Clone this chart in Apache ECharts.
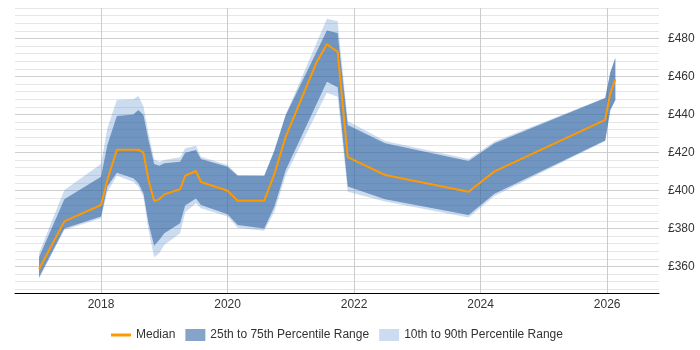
<!DOCTYPE html>
<html>
<head>
<meta charset="utf-8">
<script src="https://cdn.jsdelivr.net/npm/echarts@6/dist/echarts.min.js"></script>
<style>
  html, body { margin: 0; padding: 0; background: #fff; }
  #chart { width: 700px; height: 350px; }
</style>
</head>
<body>
<div id="chart"></div>
<script>
// decimal years of each sample
const years = [2017.02, 2017.42, 2018.00, 2018.10, 2018.25, 2018.51, 2018.59, 2018.67, 2018.75, 2018.84,
  2018.92, 2019.00, 2019.25, 2019.33, 2019.50, 2019.58, 2020.00, 2020.16, 2020.58, 2020.74,
  2020.92, 2021.40, 2021.57, 2021.74, 2021.90, 2022.49, 2023.81, 2024.22, 2025.97, 2026.05, 2026.13]

const median = [358.5, 383.7, 392.3, 405.5, 421.4, 421.4, 421.4, 420.0, 405.5, 394.4,
  395.3, 397.9, 400.6, 407.7, 410.2, 404.4, 399.8, 394.6, 394.6, 408.6,
  428.3, 466.9, 476.9, 473.0, 417.5, 408.1, 399.3, 410.0, 437.1, 451.1, 458.5]

const p25 = [354.3, 380.0, 386.2, 402.0, 409.3, 406.4, 403.7, 398.5, 382.7, 370.9,
  373.9, 377.4, 382.7, 392.0, 395.8, 392.3, 387.4, 381.8, 380.0, 391.4,
  410.7, 445.0, 457.2, 454.3, 402.0, 395.3, 387.0, 398.2, 426.2, 442.3, 447.6]

const p75 = [364.8, 395.3, 407.2, 423.9, 439.2, 440.0, 442.3, 439.7, 426.5, 413.9,
  413.0, 414.3, 415.1, 419.8, 421.3, 416.5, 412.5, 407.7, 407.6, 420.9,
  439.7, 472.5, 484.1, 482.8, 434.4, 424.8, 415.5, 424.8, 448.6, 462.0, 469.7]

const p10 = [353.5, 379.2, 385.3, 399.3, 407.7, 404.6, 402.0, 396.7, 379.2, 364.8,
  366.9, 371.3, 377.4, 388.5, 393.2, 390.6, 386.2, 380.4, 378.8, 388.8,
  408.1, 440.1, 451.4, 449.3, 399.3, 394.1, 385.8, 397.0, 426.0, 442.0, 447.4]

const p90 = [366.9, 400.2, 413.9, 432.7, 447.6, 448.0, 449.7, 444.4, 430.0, 416.4,
  415.1, 416.0, 417.4, 422.2, 423.5, 417.7, 413.4, 408.1, 408.1, 421.3,
  440.0, 477.1, 490.3, 489.0, 436.5, 426.0, 416.5, 425.8, 448.8, 462.2, 469.9]

const yearTicks = [2018, 2020, 2022, 2024, 2026]

const font = 'Arial, "Liberation Sans", sans-serif'

// one polygon per band: upper edge left to right, lower edge back
const band = (name, lo, hi, color) => ({
  type: 'custom',
  name,
  silent: true,
  data: years.map((x, i) => [x, lo[i], hi[i]]),
  encode: { x: 0, y: [1, 2] },
  itemStyle: { color },
  renderItem: (params, api) => {
    if (params.dataIndexInside !== 0) return
    const n = params.dataInsideLength
    const upper = []
    const lower = []
    for (let i = 0; i < n; i++) {
      upper.push(api.coord([api.value(0, i), api.value(2, i)]))
      lower.unshift(api.coord([api.value(0, i), api.value(1, i)]))
    }
    return {
      type: 'polygon',
      shape: { points: upper.concat(lower) },
      style: { fill: color }
    }
  }
})

const chart = echarts.init(document.getElementById('chart'))
chart.setOption({
  animation: false,
  grid: { left: 15, right: 41, top: 8, bottom: 57, containLabel: false },
  legend: {
    left: 106,
    top: 324,
    itemWidth: 20,
    itemHeight: 12,
    itemGap: 10,
    textStyle: { fontFamily: font, fontSize: 12, color: '#333' },
    data: [
      { name: 'Median', icon: 'path://M0,0 L20,0 L20,3 L0,3 Z', itemStyle: { color: '#ff9900' } },
      { name: '25th to 75th Percentile Range', icon: 'rect' },
      { name: '10th to 90th Percentile Range', icon: 'rect' }
    ]
  },
  xAxis: {
    type: 'value',
    min: 2016.64,
    max: 2026.82,
    axisLine: { show: true, lineStyle: { color: '#000', width: 1 } },
    axisTick: { show: false, customValues: yearTicks },
    axisLabel: {
      customValues: yearTicks,
      margin: 6,
      fontFamily: font,
      fontSize: 12,
      color: '#333',
      formatter: v => String(v)
    },
    splitLine: { show: true, lineStyle: { color: '#cccccc', width: 1 } }
  },
  yAxis: {
    type: 'value',
    position: 'right',
    min: 346,
    max: 496,
    interval: 2,
    axisLine: { show: false },
    axisTick: { show: false },
    axisLabel: {
      margin: 9,
      fontFamily: font,
      fontSize: 12,
      color: '#333',
      formatter: v => (v % 20 === 0 ? '£' + v : '')
    },
    splitLine: {
      show: true,
      lineStyle: {
        width: 1,
        color: ['rgba(0,0,0,0)', '#e6e6e6', 'rgba(0,0,0,0)', '#e6e6e6', 'rgba(0,0,0,0)',
          '#e6e6e6', 'rgba(0,0,0,0)', '#cfcfcf', 'rgba(0,0,0,0)', '#e6e6e6']
      }
    }
  },
  series: [
    band('10th to 90th Percentile Range', p10, p90, 'rgba(100,150,210,0.33)'),
    band('25th to 75th Percentile Range', p25, p75, 'rgba(43,95,157,0.57)'),
    {
      type: 'line',
      name: 'Median',
      symbol: 'none',
      data: years.map((x, i) => [x, median[i]]),
      itemStyle: { color: '#ff9900' },
      lineStyle: { color: '#ff9900', width: 2 },
      z: 5
    }
  ]
})
</script>
</body>
</html>
